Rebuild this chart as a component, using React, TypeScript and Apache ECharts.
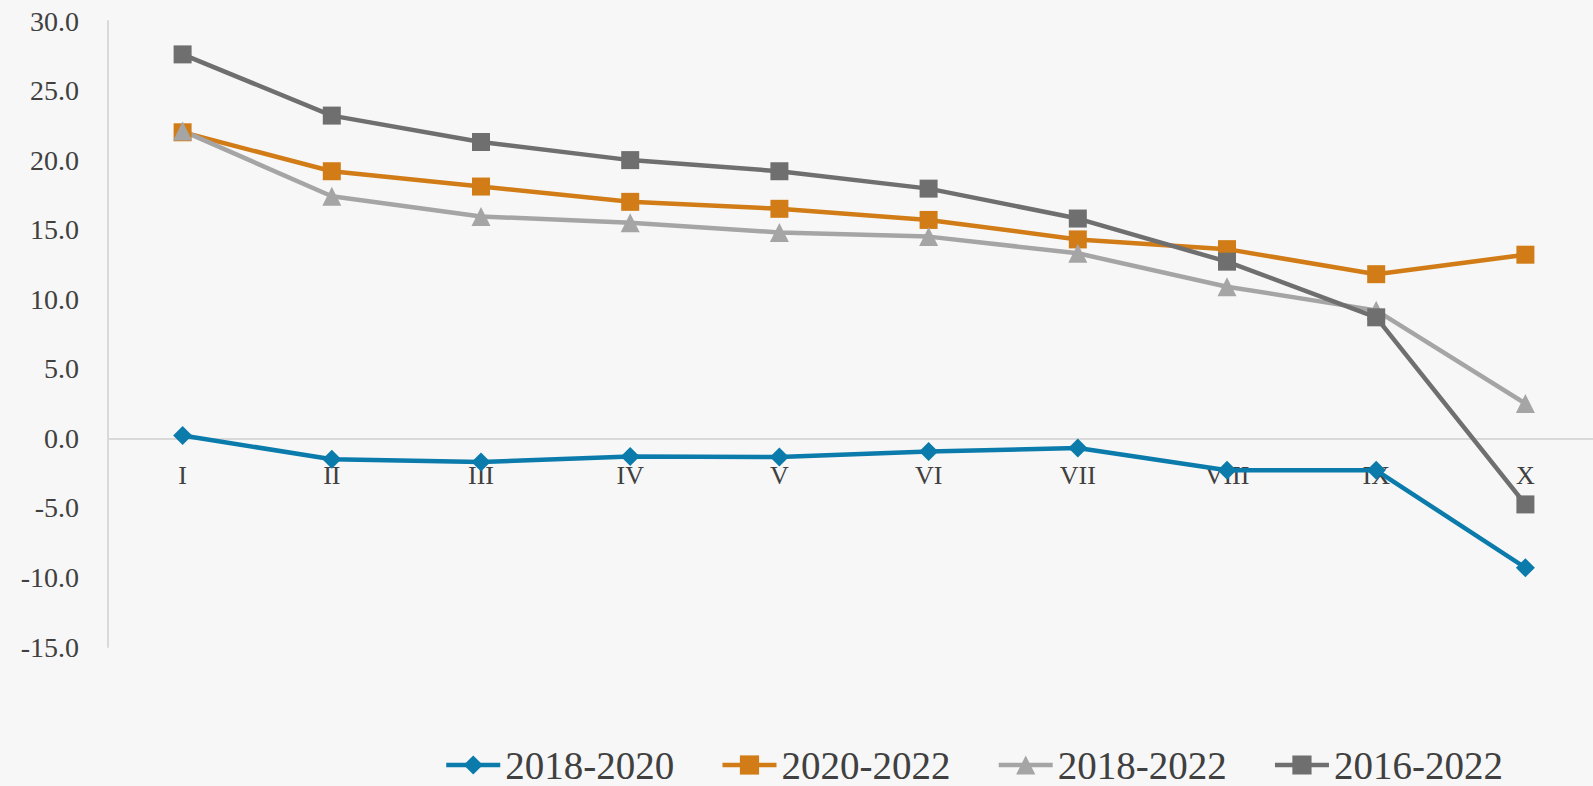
import React, { useEffect, useRef } from "react";
import * as echarts from "echarts";

const categories = ["I", "II", "III", "IV", "V", "VI", "VII", "VIII", "IX", "X"];
const s2018_2020 = [0.2, -1.5, -1.7, -1.3, -1.35, -0.95, -0.7, -2.3, -2.3, -9.3];
const s2020_2022 = [22.0, 19.2, 18.1, 17.0, 16.5, 15.7, 14.3, 13.6, 11.8, 13.2];
const s2018_2022 = [22.1, 17.4, 15.95, 15.5, 14.8, 14.5, 13.3, 10.9, 9.2, 2.5];
const s2016_2022 = [27.6, 23.2, 21.3, 20.0, 19.2, 17.95, 15.8, 12.7, 8.7, -4.75];
const seriesNames = ["2018-2020", "2020-2022", "2018-2022", "2016-2022"];
const yMin = -15;
const yMax = 30;
const yStep = 5;

const FONT = "'Liberation Serif', 'DejaVu Serif', serif";

export default function App() {
  const ref = useRef<HTMLDivElement>(null);
  useEffect(() => {
    document.body.style.margin = "0";
    document.body.style.background = "#f7f7f7";
    const chart = echarts.init(ref.current!, null, { renderer: "svg" });
    const gridTop = 21;
    const gridHeight = 626;
    // place the category axis (line and labels) at value 0
    const zeroOffset = -gridHeight * (0 - yMin) / (yMax - yMin);
    const mk = (name: string, data: number[], color: string, symbol: string, size: number) => ({
      name,
      type: "line",
      data,
      symbol,
      symbolSize: size,
      showAllSymbol: true,
      itemStyle: { color },
      lineStyle: { color, width: 4.5 },
      emphasis: { disabled: true },
    });
    chart.setOption({
      animation: false,
      backgroundColor: "#f7f7f7",
      grid: {
        left: 108,
        top: gridTop,
        width: 1492,
        height: gridHeight,
        containLabel: false,
        outerBoundsMode: "none",
      },
      xAxis: {
        type: "category",
        data: categories,
        boundaryGap: true,
        offset: zeroOffset,
        axisLine: { show: true, onZero: false, lineStyle: { color: "#d9d9d9", width: 2 } },
        axisTick: { show: false },
        axisLabel: { color: "#404040", fontFamily: FONT, fontSize: 26, margin: 24, interval: 0 },
        splitLine: { show: false },
      },
      yAxis: {
        type: "value",
        min: yMin,
        max: yMax,
        interval: yStep,
        axisLine: { show: true, lineStyle: { color: "#d9d9d9", width: 2 } },
        axisTick: { show: false },
        splitLine: { show: false },
        axisLabel: {
          color: "#404040",
          fontFamily: FONT,
          fontSize: 28,
          margin: 29,
          formatter: (v: number) => v.toFixed(1),
        },
      },
      legend: {
        left: 439,
        top: 740,
        itemWidth: 54,
        itemHeight: 24,
        itemGap: 46,
        data: seriesNames,
        lineStyle: { width: 4.5 },
        textStyle: { color: "#404040", fontFamily: FONT, fontSize: 39, lineHeight: 40 },
      },
      series: [
        mk(seriesNames[0], s2018_2020, "#0a7bab", "diamond", 19),
        mk(seriesNames[1], s2020_2022, "#d17c17", "rect", 18),
        mk(seriesNames[2], s2018_2022, "#a5a5a5", "triangle", 19),
        mk(seriesNames[3], s2016_2022, "#6f6f6f", "rect", 18),
      ],
    });
    return () => chart.dispose();
  }, []);
  return <div ref={ref} style={{ width: 1593, height: 786, background: "#f7f7f7" }} />;
}
